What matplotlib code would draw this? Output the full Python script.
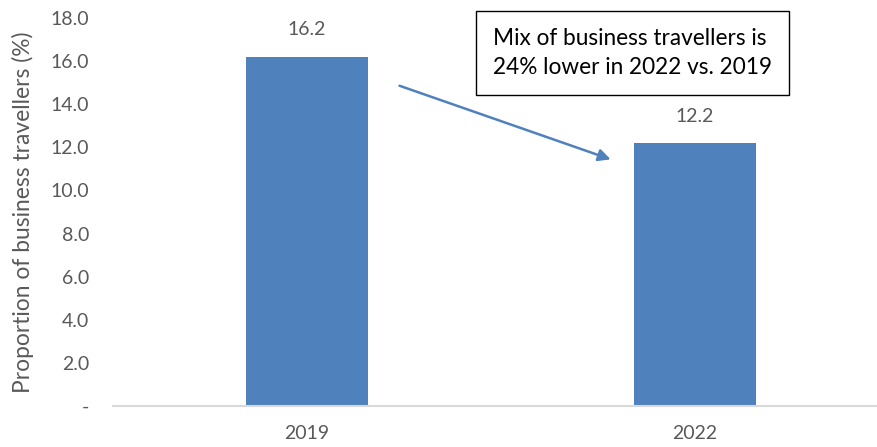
import matplotlib
matplotlib.use('Agg')
import matplotlib.pyplot as plt

years = ['2019', '2022']
share = [16.2, 12.2]
y_ticks = [0, 2, 4, 6, 8, 10, 12, 14, 16, 18]
note = 'Mix of business travellers is\n24% lower in 2022 vs. 2019'

plt.rcParams['font.family'] = ['Lato', 'DejaVu Sans']
grey = '#595959'
blue = '#4F81BD'

fig = plt.figure(figsize=(8.77, 4.47), dpi=100)
ax = fig.add_axes([113 / 877, 41 / 447, 764 / 877, 388 / 447])

x = range(len(years))
ax.bar(x, share, width=0.315, color=blue)
for xi, v in zip(x, share):
    ax.text(xi, v + 0.85, f'{v:.1f}', ha='center', va='bottom', fontsize=14, color=grey)

ax.set_xlim(-0.5, 1.47)
ax.set_ylim(0, 18)
ax.set_xticks(list(x))
ax.set_xticklabels(years)
ax.set_yticks(y_ticks)
ax.set_yticklabels(['-' if t == 0 else f'{t:.1f}' for t in y_ticks])
ax.tick_params(length=0, labelsize=14, labelcolor=grey)
ax.tick_params(axis='x', pad=14)
ax.tick_params(axis='y', pad=17)

for side in ['top', 'right', 'left']:
    ax.spines[side].set_visible(False)
ax.spines['bottom'].set_color('#D9D9D9')
ax.spines['bottom'].set_linewidth(1.5)

ax.set_ylabel('Proportion of business travellers (%)', fontsize=16.4, color=grey, labelpad=12)

# callout arrow
ax.annotate('', xy=(0.79, 11.4), xytext=(0.232, 14.9),
            arrowprops=dict(arrowstyle='-|>', color=blue, lw=1.8, mutation_scale=18))

fig.text(493 / 877, 1 - 53 / 447, note, fontsize=16.3, color='black', va='center', ha='left',
         linespacing=1.45,
         bbox=dict(boxstyle='square,pad=0.75', facecolor='white', edgecolor='black', linewidth=1))

fig.savefig('out.png', dpi=100)
